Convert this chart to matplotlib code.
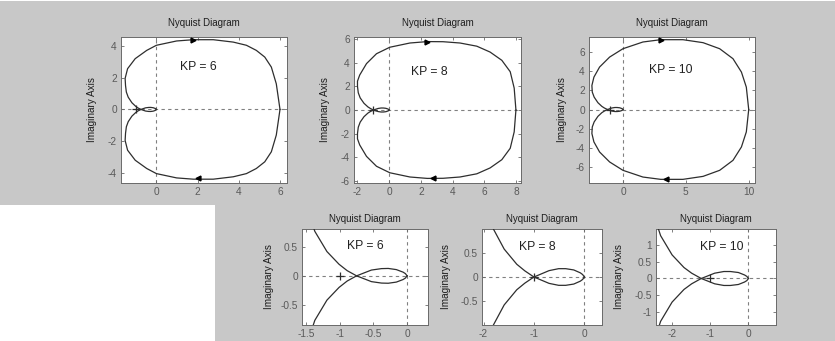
import matplotlib.pyplot as plt
from matplotlib.patches import Rectangle
from matplotlib.ticker import FormatStrFormatter

plt.rcParams["font.family"] = ["Liberation Sans", "DejaVu Sans"]
plt.rcParams["axes.unicode_minus"] = False

W, H = 835, 341

gains = [6, 8, 10]

# upper branch of each Nyquist curve, from w = 0 out to the origin;
# the lower branch is drawn as its mirror image
re_kp6 = [6.00, 5.82, 5.58, 5.26, 4.85, 4.37, 3.73, 2.76, 1.79, 0.98, 0.00, -0.47, -1.03,
          -1.40, -1.52, -1.50, -1.46, -1.37, -1.19, -1.01, -0.89, -0.75, -0.53, -0.38,
          -0.28, -0.16, -0.06, -0.025, 0.00]
im_kp6 = [0.00, 1.61, 2.66, 3.29, 3.71, 4.03, 4.23, 4.38, 4.38, 4.30, 4.03, 3.71, 3.19,
          2.56, 1.95, 1.50, 1.09, 0.77, 0.42, 0.20, 0.09, 0.00, -0.10, -0.125,
          -0.128, -0.108, -0.064, -0.038, 0.00]

re_kp8 = [8.00, 7.89, 7.64, 7.11, 6.37, 5.53, 4.47, 3.40, 2.41, 1.31, 0.04, -0.80, -1.43,
          -1.86, -2.00, -2.00, -1.95, -1.83, -1.59, -1.34, -1.18, -1.00, -0.70, -0.51,
          -0.37, -0.21, -0.08, -0.034, 0.00]
im_kp8 = [0.00, 1.86, 3.25, 4.22, 4.92, 5.42, 5.69, 5.80, 5.81, 5.69, 5.33, 4.78, 3.94,
          2.97, 2.45, 2.00, 1.46, 1.03, 0.57, 0.26, 0.125, 0.00, -0.13, -0.17,
          -0.17, -0.144, -0.085, -0.05, 0.00]

re_kp10 = [10.00, 9.81, 9.42, 8.75, 7.69, 6.37, 4.77, 3.00, 1.59, 0.00, -1.06, -1.86, -2.31,
           -2.47, -2.44, -2.29, -1.99, -1.68, -1.48, -1.23, -0.88, -0.64, -0.47, -0.26,
           -0.10, -0.04, 0.00]
im_kp10 = [0.00, 2.33, 3.90, 5.29, 6.33, 6.96, 7.27, 7.27, 7.03, 6.33, 5.46, 4.42, 3.37,
           2.50, 1.82, 1.29, 0.71, 0.33, 0.16, 0.00, -0.16, -0.21, -0.21, -0.18,
           -0.106, -0.063, 0.00]

curves_re = [re_kp6, re_kp8, re_kp10]
curves_im = [im_kp6, im_kp8, im_kp10]

# frequency arrow heads (upper branch points right, lower branch points left)
arrow_upper = [(1.79, 4.38), (2.41, 5.81), (3.00, 7.27)]
arrow_lower = [(2.00, -4.32), (2.75, -5.80), (3.40, -7.22)]

# full view
full_xlim = [(-1.72, 6.34), (-2.22, 8.32), (-2.70, 10.50)]
full_ylim = [(-4.62, 4.55), (-6.20, 6.20), (-7.65, 7.55)]
full_xticks = [[0, 2, 4, 6], [-2, 0, 2, 4, 6, 8], [0, 5, 10]]
full_yticks = [[-4, -2, 0, 2, 4], [-6, -4, -2, 0, 2, 4, 6], [-6, -4, -2, 0, 2, 4, 6]]
full_text_pos = [(1.15, 2.66), (1.35, 3.25), (2.05, 4.15)]
full_label_dx = [-24, -24, -22]

# close-up around the -1 point
zoom_xlim = [(-1.56, 0.31), (-2.03, 0.35), (-2.41, 0.72)]
zoom_ylim = [(-0.85, 0.81), (-0.98, 0.98), (-1.40, 1.49)]
zoom_xticks = [[-1.5, -1, -0.5, 0], [-2, -1, 0], [-2, -1, 0]]
zoom_yticks = [[-0.5, 0, 0.5], [-0.5, 0, 0.5], [-1, -0.5, 0, 0.5, 1]]
zoom_text_pos = [(-0.89, 0.52), (-1.29, 0.61), (-1.27, 0.96)]
zoom_label_dx = [-28, -31.5, -32]

# axes boxes in pixels: left, top, right, bottom
full_boxes = [(121, 37, 287, 183), (354, 37, 521, 183), (589, 37, 755, 183)]
zoom_boxes = [(302, 229, 428, 325), (482, 229, 602, 325), (656, 229, 776, 325)]

GRAY_BG = "#c8c8c8"
CURVE = "#2e2e2e"
AXIS = "#6a6a6a"
TICK = "#5a5a5a"


def add_axes_px(fig, box):
    l, t, r, b = box
    return fig.add_axes([l / W, (H - b) / H, (r - l) / W, (b - t) / H])


def draw_panel(ax, kp, xr, yi, up, lo, xlim, ylim, xticks, yticks, text_pos, label_dx,
               title_pad, show_arrows):
    ax.set_facecolor("white")
    ax.axhline(0, color="#808080", lw=0.8, dashes=(3, 3), zorder=1)
    ax.axvline(0, color="#808080", lw=0.8, dashes=(3, 3), zorder=1)
    ax.plot(xr, yi, color=CURVE, lw=0.9, zorder=3)
    ax.plot(xr, [-v for v in yi], color=CURVE, lw=0.9, zorder=3)
    ax.plot([-1], [0], marker="+", color=CURVE, ms=6, mew=0.9, zorder=4)
    if show_arrows:
        ax.plot([up[0]], [up[1]], marker=">", color="black", ms=3.5, zorder=5)
        ax.plot([lo[0]], [lo[1]], marker="<", color="black", ms=3.5, zorder=5)
    ax.text(text_pos[0], text_pos[1], f"KP = {kp}", fontsize=8.7, color="#222222",
            va="center", ha="left")
    ax.set_xlim(*xlim)
    ax.set_ylim(*ylim)
    ax.set_xticks(xticks)
    ax.set_yticks(yticks)
    ax.xaxis.set_major_formatter(FormatStrFormatter("%g"))
    ax.yaxis.set_major_formatter(FormatStrFormatter("%g"))
    ax.tick_params(direction="in", length=2.5, width=0.6, colors=AXIS, labelcolor=TICK,
                   labelsize=7.3, top=True, right=True, pad=3)
    for s in ax.spines.values():
        s.set_color(AXIS)
        s.set_linewidth(0.7)
    ax.set_title("Nyquist Diagram", fontsize=7, color="#1e1e1e", pad=title_pad)
    ax.set_ylabel("Imaginary Axis", fontsize=7.2, color="#1e1e1e")
    w_px = ax.get_position().width * W
    ax.yaxis.set_label_coords(label_dx / w_px, 0.5)


fig = plt.figure(figsize=(W / 100, H / 100), dpi=100)
fig.patch.set_facecolor("white")

# grey backdrop behind the two rows of plots
fig.patches.append(Rectangle((0, (H - 205) / H), 1, 204 / H, transform=fig.transFigure,
                             facecolor=GRAY_BG, edgecolor="none", zorder=-5))
fig.patches.append(Rectangle((215 / W, 0), (W - 215) / W, (H - 204) / H,
                             transform=fig.transFigure, facecolor=GRAY_BG,
                             edgecolor="none", zorder=-5))

for i, kp in enumerate(gains):
    ax = add_axes_px(fig, full_boxes[i])
    draw_panel(ax, kp, curves_re[i], curves_im[i], arrow_upper[i], arrow_lower[i],
               full_xlim[i], full_ylim[i], full_xticks[i], full_yticks[i],
               full_text_pos[i], full_label_dx[i], 8, True)

for i, kp in enumerate(gains):
    ax = add_axes_px(fig, zoom_boxes[i])
    draw_panel(ax, kp, curves_re[i], curves_im[i], arrow_upper[i], arrow_lower[i],
               zoom_xlim[i], zoom_ylim[i], zoom_xticks[i], zoom_yticks[i],
               zoom_text_pos[i], zoom_label_dx[i], 5, False)

fig.savefig("out.png", dpi=100)
